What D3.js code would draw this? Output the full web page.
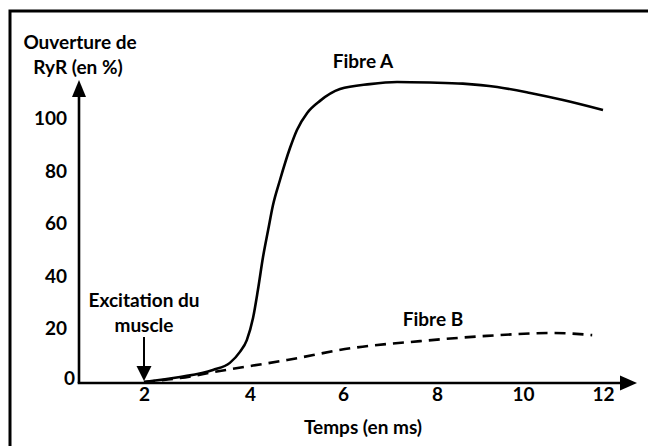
<!DOCTYPE html>
<html>
<head>
<meta charset="utf-8">
<script src="https://cdn.jsdelivr.net/npm/d3@7"></script>
<style>
  html, body { margin: 0; padding: 0; background: #fff; }
  svg { display: block; }
  text { font-family: Lato, "Open Sans", sans-serif; font-weight: 700; fill: #000; }
</style>
</head>
<body>
<svg id="chart" width="648" height="446"></svg>
<script>
// ---- data ----
const xTicks = [2, 4, 6, 8, 10, 12];
const yTicks = [0, 20, 40, 60, 80, 100];

const fibreATime  = [2, 2.68, 3.30, 3.62, 3.81, 3.94, 4.065, 4.17, 4.28, 4.39, 4.49, 4.645, 4.86, 5.01, 5.23, 5.505, 5.935, 6.57, 7.15, 7.85, 8.60, 9.40, 10.18, 11.0, 12.0];
const fibreAValue = [0, 1.9, 4.6, 7.3, 11.5, 16.0, 24.4, 35.1, 47.7, 58.0, 67.2, 77.1, 89.3, 96.2, 102.7, 107.3, 111.8, 113.7, 114.5, 114.3, 113.9, 112.6, 110.3, 107.6, 103.8];

const fibreBTime  = [2, 2.68, 3.43, 4.80, 6.21, 7.64, 9.16, 10.75, 11.73];
const fibreBValue = [0, 1.5, 4.2, 8.4, 13.0, 15.6, 17.6, 18.7, 17.9];

const yTitle = ["Ouverture de", "RyR (en %)"];
const xTitle = "Temps (en ms)";
const seriesLabels = ["Fibre A", "Fibre B"];
const excitationLabel = ["Excitation du", "muscle"];
const excitationTime = 2;

// ---- layout ----
const FS = 19;
const svg = d3.select("#chart");
const x = d3.scaleLinear().domain(xTicks).range([144, 250, 343, 437, 523, 603]);
const y = d3.scaleLinear().domain([0, 100]).range([382, 120]);
const axisX = 79, axisY = 383;

// frame (top & left visible)
svg.append("rect").attr("x", 10).attr("y", 11).attr("width", 800).attr("height", 600)
  .attr("fill", "none").attr("stroke", "#000").attr("stroke-width", 3);

// axes lines with arrows
svg.append("line").attr("x1", axisX).attr("y1", axisY).attr("x2", axisX).attr("y2", 95)
  .attr("stroke", "#000").attr("stroke-width", 2.6);
svg.append("path").attr("d", `M${axisX},80 L${axisX-7},97 L${axisX+7},97 Z`).attr("fill", "#000");
svg.append("line").attr("x1", axisX - 1.3).attr("y1", axisY).attr("x2", 622).attr("y2", axisY)
  .attr("stroke", "#000").attr("stroke-width", 2.6);
svg.append("path").attr("d", `M637,${axisY} L620,${axisY-7.5} L620,${axisY+7.5} Z`).attr("fill", "#000");

// x tick labels
const gx = svg.append("g").attr("transform", `translate(0,${axisY})`)
  .call(d3.axisBottom(x).tickValues(xTicks).tickSize(0).tickPadding(7).tickFormat(d3.format("d")));
gx.select(".domain").remove();
gx.selectAll("text").attr("font-size", FS).attr("font-family", "Lato, sans-serif").attr("font-weight", 700).attr("dy", "0.6em");

// y tick labels
const gy = svg.append("g").attr("transform", `translate(67,0)`)
  .call(d3.axisLeft(y).tickValues(yTicks).tickSize(0).tickPadding(0).tickFormat(d3.format("d")));
gy.select(".domain").remove();
gy.selectAll("text").attr("font-size", FS).attr("font-family", "Lato, sans-serif").attr("font-weight", 700)
  .attr("dy", "0.36em")
  .attr("x", d => d === 0 ? 8 : 0)
  .attr("y", d => d === 0 ? -4 : -2);

// axis titles
svg.append("text").attr("x", 80).attr("y", 49).attr("text-anchor", "middle").attr("font-size", FS).text(yTitle[0]);
svg.append("text").attr("x", 78).attr("y", 74).attr("text-anchor", "middle").attr("font-size", FS).text(yTitle[1]);
svg.append("text").attr("x", 363).attr("y", 434).attr("text-anchor", "middle").attr("font-size", FS).text(xTitle);

// curves
const line = d3.line().x(d => x(d[0])).y(d => y(d[1])).curve(d3.curveMonotoneX);
const dataA = fibreATime.map((t, i) => [t, fibreAValue[i]]);
const dataB = fibreBTime.map((t, i) => [t, fibreBValue[i]]);
svg.append("path").attr("d", line(dataB)).attr("fill", "none").attr("stroke", "#000")
  .attr("stroke-width", 2.6).attr("stroke-dasharray", "11,7");
svg.append("path").attr("d", line(dataA)).attr("fill", "none").attr("stroke", "#000")
  .attr("stroke-width", 2.6);

// series labels
svg.append("text").attr("x", 363).attr("y", 68).attr("text-anchor", "middle").attr("font-size", FS).text(seriesLabels[0]);
svg.append("text").attr("x", 433).attr("y", 326).attr("text-anchor", "middle").attr("font-size", FS).text(seriesLabels[1]);

// excitation annotation
const ex = x(excitationTime);
svg.append("text").attr("x", ex).attr("y", 307).attr("text-anchor", "middle").attr("font-size", FS).text(excitationLabel[0]);
svg.append("text").attr("x", ex).attr("y", 332).attr("text-anchor", "middle").attr("font-size", FS).text(excitationLabel[1]);
svg.append("line").attr("x1", ex).attr("y1", 337).attr("x2", ex).attr("y2", 368)
  .attr("stroke", "#000").attr("stroke-width", 2);
svg.append("path").attr("d", `M${ex},381 L${ex-7.5},366 L${ex+7.5},366 Z`).attr("fill", "#000");
</script>
</body>
</html>
